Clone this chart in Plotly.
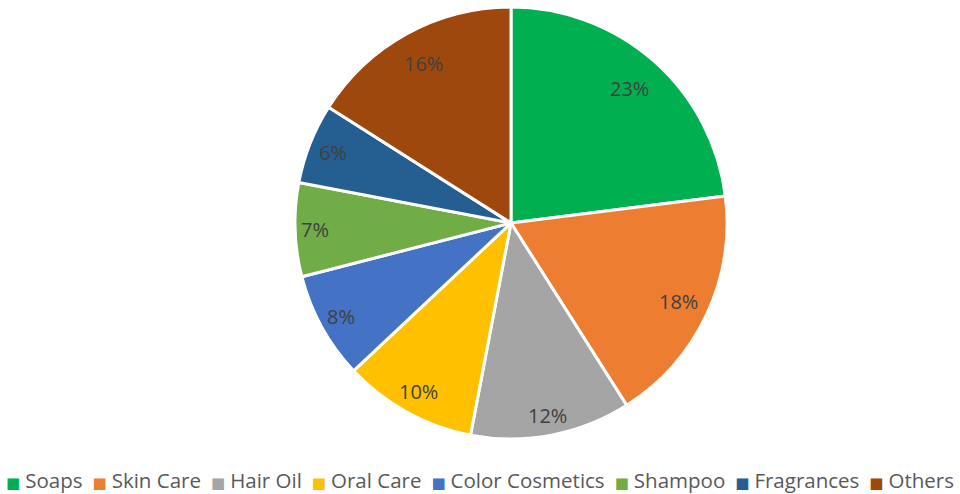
import math
import plotly.graph_objects as go

# Market share by product category
categories = ["Soaps", "Skin Care", "Hair Oil", "Oral Care",
              "Color Cosmetics", "Shampoo", "Fragrances", "Others"]
shares = [23, 18, 12, 10, 8, 7, 6, 16]
colors = ["#00B050", "#ED7D31", "#A5A5A5", "#FFC000",
          "#4472C4", "#70AD47", "#255E91", "#9E480E"]
# radial placement of each percentage label (fraction of the radius)
label_radius = [0.831, 0.858, 0.905, 0.89, 0.90, 0.91, 0.888, 0.841]

W, H = 960, 494
CX, CY, R = 511, 223, 216  # pie centre and radius in pixels
FONT = "Open Sans"

fig = go.Figure(go.Pie(
    labels=categories,
    values=shares,
    marker=dict(colors=colors, line=dict(color="white", width=3)),
    sort=False,
    direction="clockwise",
    rotation=0,
    textinfo="none",
    hoverinfo="label+percent",
    showlegend=False,
    domain=dict(x=[(CX - R) / W, (CX + R) / W],
                y=[1 - (CY + R) / H, 1 - (CY - R) / H]),
))

# Percentage labels placed along each slice's bisector
total = sum(shares)
cum = 0
annotations = []
for v, rf in zip(shares, label_radius):
    mid = (cum + v / 2) / total * 2 * math.pi
    cum += v
    rr = rf * R
    px = CX + rr * math.sin(mid)
    py = CY - rr * math.cos(mid)
    annotations.append(dict(
        x=px / W, y=1 - py / H, xref="paper", yref="paper",
        text=f"{round(v / total * 100)}%", showarrow=False,
        font=dict(family=FONT, size=20, color="#404040"),
        xanchor="center", yanchor="middle",
    ))

# Legend row along the bottom: coloured square, gap, label, gap
def gap(px):
    return f"<span style='font-family:DejaVu Sans;font-size:{px}px'>\u2003</span>"

items = []
for c, col in zip(categories, colors):
    items.append(
        f"<span style='font-family:DejaVu Sans;font-size:15px;color:{col}'>\u25A0</span>"
        f"{gap(5)}{c}")
legend_text = gap(10).join(items)
annotations.append(dict(
    x=0.5, y=1 - 480 / H, xref="paper", yref="paper",
    text=legend_text, showarrow=False,
    font=dict(family=FONT, size=20.5, color="#595959"),
    xanchor="center", yanchor="middle",
))

fig.update_layout(
    width=W, height=H,
    margin=dict(l=0, r=0, t=0, b=0),
    paper_bgcolor="white",
    plot_bgcolor="white",
    annotations=annotations,
)

fig.write_html("out.html")
